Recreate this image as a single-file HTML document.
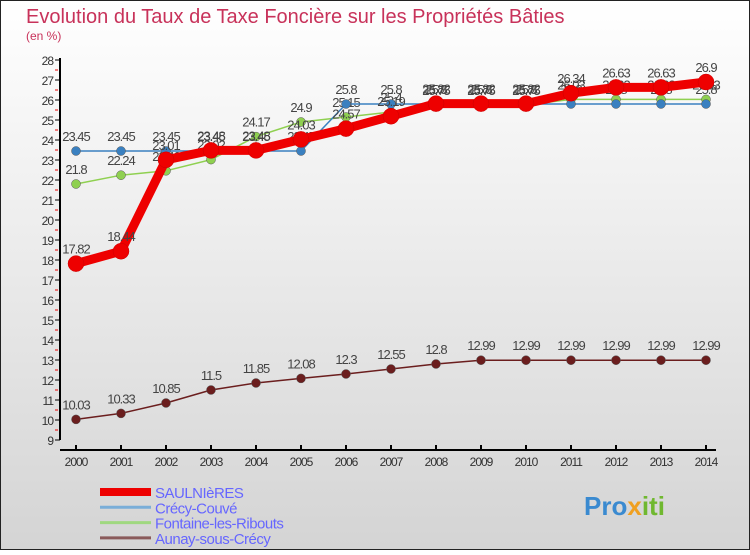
<!DOCTYPE html>
<html><head><meta charset="utf-8"><style>
body{margin:0;width:750px;height:550px;overflow:hidden;font-family:"Liberation Sans",sans-serif}
</style></head><body>
<svg id="c" width="750" height="550" xmlns="http://www.w3.org/2000/svg">
<defs><linearGradient id="bg" x1="0" y1="0" x2="0" y2="1"><stop offset="0" stop-color="#ffffff"/><stop offset="1" stop-color="#d4d4d4"/></linearGradient></defs>
<rect width="750" height="550" fill="url(#bg)"/>
<rect x="0.5" y="0.5" width="749" height="549" fill="none" stroke="#222"/>
<text x="26" y="23" font-size="20" fill="#c8325a">Evolution du Taux de Taxe Foncière sur les Propriétés Bâties</text>
<text x="26" y="40" font-size="12" fill="#c8325a">(en %)</text>
<g id="axes"></g><g id="series"></g><g id="legend"></g>
<text x="584" y="515" font-size="26" font-weight="bold" fill="#3a8ad0">Pro<tspan fill="#f0a020">x</tspan><tspan fill="#70b830">iti</tspan></text>
</svg>
<script>
const years=[2000,2001,2002,2003,2004,2005,2006,2007,2008,2009,2010,2011,2012,2013,2014];
const saulnieres=[17.82,18.44,23.01,23.48,23.48,24.03,24.57,25.19,25.82,25.82,25.82,26.34,26.63,26.63,26.9];
const crecy=[23.45,23.45,23.45,23.45,23.45,23.45,25.8,25.8,25.8,25.8,25.8,25.8,25.8,25.8,25.8];
const fontaine=[21.8,22.24,22.46,23.02,24.17,24.9,25.15,25.4,25.75,25.75,25.75,26.03,26.03,26.03,26.03];
const aunay=[10.03,10.33,10.85,11.5,11.85,12.08,12.3,12.55,12.8,12.99,12.99,12.99,12.99,12.99,12.99];
const yTicks=[9,10,11,12,13,14,15,16,17,18,19,20,21,22,23,24,25,26,27,28];
const names=["SAULNIèRES","Crécy-Couvé","Fontaine-les-Ribouts","Aunay-sous-Crécy"];
const NS="http://www.w3.org/2000/svg";
const X=i=>76+i*45, Y=v=>440-(v-9)*20;
function mk(p,t,a){const e=document.createElementNS(NS,t);for(const k in a)e.setAttribute(k,a[k]);p.appendChild(e);return e;}
const ax=document.getElementById('axes');
let l=mk(ax,'line',{x1:60,y1:58,x2:60,y2:440,stroke:'#000','stroke-width':2});


l=mk(ax,'line',{x1:60,y1:450,x2:716,y2:450,stroke:'#000','stroke-width':2});


yTicks.forEach(v=>{
 mk(ax,'line',{x1:55,y1:Y(v),x2:60,y2:Y(v),stroke:'#000'});
 if(v<28) mk(ax,'line',{x1:55,y1:Y(v+0.5),x2:58,y2:Y(v+0.5),stroke:'#e00'});
 const t=mk(ax,'text',{x:53,y:Y(v)+5,'font-size':12,'text-anchor':'end',fill:'#333','letter-spacing':'-1'});
 t.textContent=v;
 
 
});
years.forEach((y,i)=>{
 mk(ax,'line',{x1:X(i),y1:445,x2:X(i),y2:450,stroke:'#000','stroke-width':2});
 const t=mk(ax,'text',{x:X(i),y:466,'font-size':12,'text-anchor':'middle',fill:'#333','letter-spacing':'-1'});
 t.textContent=y;
 
 
});
const sg=document.getElementById('series');
const specs=[[aunay,'#6b1e1e',1.5,4.5,'aunay'],[fontaine,'#8fd050',1.5,4.5,'fontaine'],[crecy,'#3a80c0',1.5,4.5,'crecy'],[saulnieres,'#ee0000',9,8,'saulnieres']];
specs.forEach(([d,c,w,r,n])=>{
 const g=mk(sg,'g',{});
 
 
 const pl=mk(g,'polyline',{points:d.map((v,i)=>X(i)+','+Y(v)).join(' '),fill:'none',stroke:c,'stroke-width':w,'stroke-linejoin':'round'});
 
 
 d.forEach((v,i)=>{
  const p=mk(g,'circle',{cx:X(i),cy:Y(v),r:r,fill:c,stroke:n=='saulnieres'?'#c00':'#555','stroke-width':0.5});
  
  
  const t=mk(g,'text',{x:X(i),y:Y(v)-10,'font-size':13,'text-anchor':'middle',fill:'#444','letter-spacing':'-1'});
  t.textContent=v;
  
  
 });
});
const lg=document.getElementById('legend');
const lc=[['#ee0000',8],['#7aaed8',3],['#a0d880',3],['#8a5a5a',3]];
names.forEach((n,i)=>{
 const y=492+i*15.3;
 const ln=mk(lg,'line',{x1:100,y1:y,x2:151,y2:y,stroke:lc[i][0],'stroke-width':lc[i][1]});
 
 
 const t=mk(lg,'text',{x:155,y:y+6,'font-size':15,fill:'#6666ff','letter-spacing':'-0.5'});
 t.textContent=n;
 
 
});
</script>
</body></html>
